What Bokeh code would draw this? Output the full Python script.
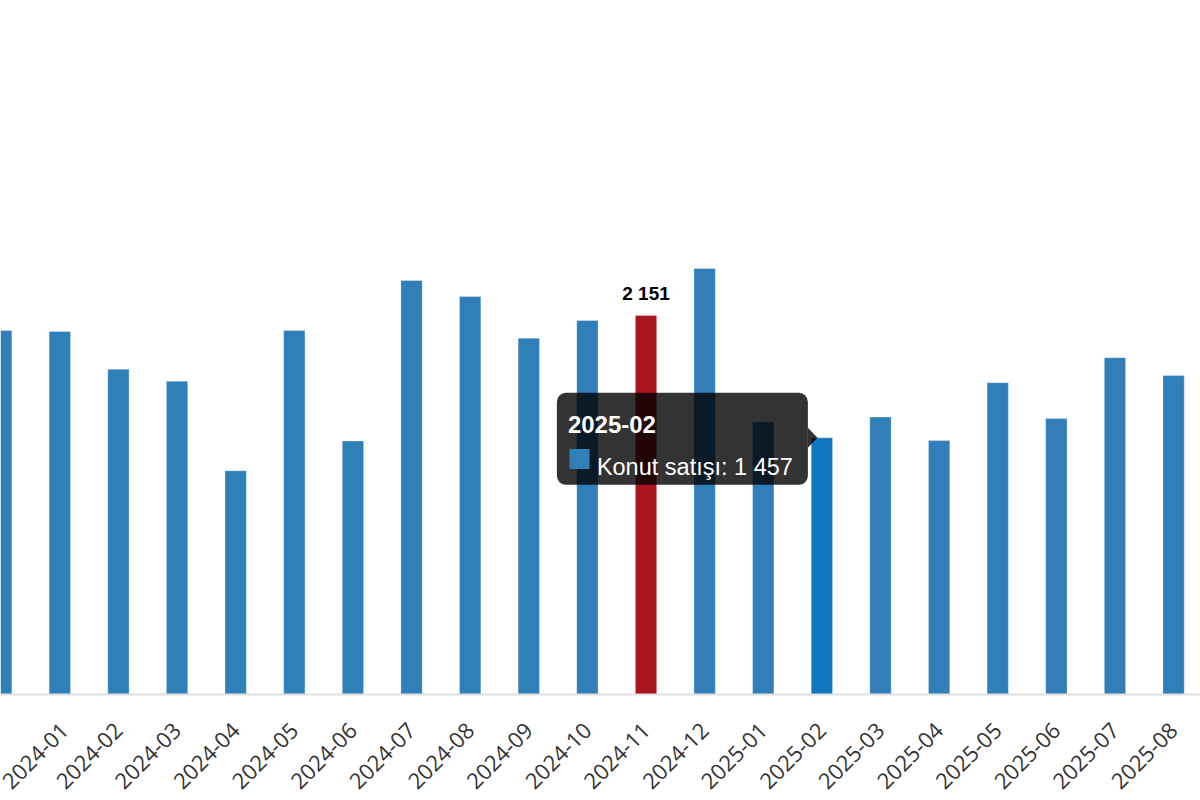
from bokeh.plotting import figure
from bokeh.models import Range1d, FixedTicker, BoxAnnotation, ColumnDataSource, Label
from bokeh.core.properties import value
from bokeh.embed import file_html
from bokeh.resources import INLINE

# ---- data ----
months = ["2023-12", "2024-01", "2024-02", "2024-03", "2024-04", "2024-05",
          "2024-06", "2024-07", "2024-08", "2024-09", "2024-10", "2024-11",
          "2024-12", "2025-01", "2025-02", "2025-03", "2025-04", "2025-05",
          "2025-06", "2025-07", "2025-08"]
sales = [2066, 2060, 1846, 1778, 1270, 2066, 1439, 2350, 2259, 2022, 2123,
         2151, 2418, 1547, 1457, 1575, 1441, 1770, 1566, 1912, 1810]
# category labels along the axis (the last one belongs to a bar beyond the right edge)
tick_labels = months + ["2025-09"]
series_name = "Konut satışı"
highlight_month = "2024-11"
hover_month = "2025-02"

# ---- styles / layout ----
BAR_COLOR = "#317fb8"
HI_COLOR = "#a8151c"
HOVER_COLOR = "#0f76c2"
W, H = 1200, 800
BOTTOM = 106
X_START, X_END = -0.012, 20.459
Y_END = 3939


def fmt(v):
    return f"{v:,}".replace(",", " ")


xs = list(range(len(months)))
hi = months.index(highlight_month)
hv = months.index(hover_month)
colors = [HI_COLOR if i == hi else HOVER_COLOR if i == hv else BAR_COLOR for i in xs]

src = ColumnDataSource(dict(x=xs, top=sales, color=colors))

p = figure(width=W, height=H, x_range=Range1d(X_START, X_END), y_range=Range1d(0, Y_END),
           output_backend="svg", toolbar_location=None, y_axis_location=None,
           min_border_left=0, min_border_right=0, min_border_top=0,
           min_border_bottom=BOTTOM, outline_line_color=None,
           background_fill_color="white", border_fill_color="white")
p.xgrid.visible = False
p.ygrid.visible = False

p.vbar(x="x", top="top", width=0.364, fill_color="color", line_color="white",
       line_alpha=0.3, line_width=1, source=src)

kx = W / (X_END - X_START)
ky = (H - BOTTOM) / Y_END

# axis: labels for the categories whose tick lies inside the view
inside = [i for i in range(len(tick_labels)) if X_START + 0.1 < i < X_END]
ax = p.xaxis[0]
ax.ticker = FixedTicker(ticks=inside)
ax.major_label_overrides = {i: tick_labels[i] for i in inside}
ax.major_label_orientation = 0.785398
ax.major_label_text_font = "Open Sans"
ax.major_label_text_font_size = "22px"
ax.major_label_text_color = "#333333"
ax.major_label_standoff = 32
ax.major_tick_line_color = None
ax.minor_tick_line_color = None
ax.major_tick_out = 0
ax.major_tick_in = 0
ax.axis_line_color = "#e0e0e0"
ax.axis_line_width = 2

# labels of categories cut by the left/right edges
for i, t in enumerate(tick_labels):
    if i in inside:
        continue
    p.add_layout(Label(x=i, y=-34 / ky, text=t, x_offset=8,
                       angle=0.785398, text_align="right", text_baseline="middle",
                       text_font="Open Sans", text_font_size="22px",
                       text_color="#333333"))

# data label above highlighted bar
p.text(x=[hi], y=[sales[hi]], text=[fmt(sales[hi])], text_align="center",
       text_baseline="alphabetic", y_offset=-22, text_font=value("Liberation Sans"),
       text_font_style="bold", text_font_size="19px", text_color="black")

# tooltip for hovered bar
xh, vh = hv, sales[hv]
box_right = xh - 14 / kx
box = BoxAnnotation(left=xh - 265 / kx, right=box_right, top=vh + 45 / ky,
                    bottom=vh - 47 / ky, fill_color="black", fill_alpha=0.8,
                    line_color=None, border_radius=9)
p.add_layout(box)
p.patch(x=[box_right, xh - 4.4 / kx, box_right], y=[vh + 10 / ky, vh, vh - 10 / ky],
        fill_color="black", fill_alpha=0.8, line_color=None)
p.scatter(x=[xh - 242.4 / kx], y=[vh - 21.2 / ky], marker="square", size=20,
          fill_color=BAR_COLOR, line_color=None, level="overlay")
p.text(x=[xh], y=[vh], text=[months[hv]], x_offset=-254, y_offset=-13,
       text_baseline="alphabetic", text_align="left", text_font=value("Liberation Sans"),
       text_font_style="bold", text_font_size="24px", text_color="white", level="overlay")
p.text(x=[xh], y=[vh], text=[f"{series_name}: {fmt(vh)}"], x_offset=-225, y_offset=29,
       text_baseline="alphabetic", text_align="left", text_font=value("Liberation Sans"),
       text_font_size="23.5px", text_color="white", level="overlay")

open("out.html", "w").write(file_html(p, INLINE))
